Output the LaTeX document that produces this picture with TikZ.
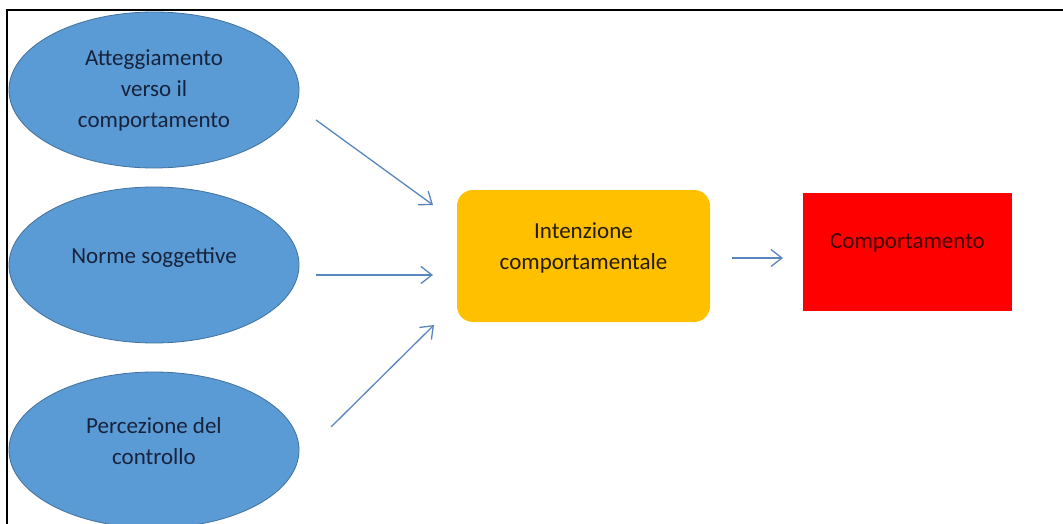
\documentclass[tikz,border=0pt]{standalone}
\usepackage{fontspec}
\setmainfont{Carlito}
\usetikzlibrary{shapes.geometric,arrows.meta}
\definecolor{ellfill}{HTML}{5B9BD5}
\definecolor{elldraw}{HTML}{41719C}
\definecolor{arrowblue}{HTML}{5A86BE}
\definecolor{boxyellow}{HTML}{FFC000}
\definecolor{boxred}{HTML}{FF0000}
\definecolor{elltext}{HTML}{17233D}
\tikzset{
  txt/.style={font=\fontsize{23}{31}\selectfont, align=center},
  ell/.style={ellipse, fill=ellfill, draw=elldraw, line width=0.8pt,
              minimum width=290pt, minimum height=156pt, inner sep=0pt},
  ybox/.style={rectangle, rounded corners=16pt, fill=boxyellow,
               minimum width=253pt, minimum height=132pt, inner sep=0pt},
  rbox/.style={rectangle, fill=boxred, minimum width=209pt,
               minimum height=118pt, inner sep=0pt},
  conn/.style={draw=arrowblue, line width=1.3pt,
               -{Straight Barb[length=11pt,width=17pt,line width=1.3pt]}},
}
\begin{document}
\begin{tikzpicture}[x=1pt,y=-1pt]
  \useasboundingbox (0,0) rectangle (1063,524);
  \clip (0,0) rectangle (1063,524);
  \fill[white] (0,0) rectangle (1063,524);
  % frame
  \draw[line width=2pt] (7,530) -- (7,10.5) -- (1070,10.5);
  % ellipses
  \node[ell, label={[txt, text=elltext]center:Atteggiamento\\verso il\\comportamento}] (e1) at (154,90) {};
  \node[ell, label={[txt, text=elltext, yshift=7pt]center:Norme soggettive}] (e2) at (154,265) {};
  \node[ell, label={[txt, text=elltext, yshift=9pt]center:Percezione del\\controllo}] (e3) at (154,450) {};
  % boxes
  \node[ybox, label={[txt, text=black!85!boxyellow, yshift=8pt]center:Intenzione\\comportamentale}] (int) at (583.5,256) {};
  \node[rbox, label={[txt, text=black!75!boxred, yshift=9pt]center:Comportamento}] (comp) at (907.5,252) {};
  % connector ends
  \coordinate (s1) at (316,120);
  \coordinate (t1) at (433,205);
  \coordinate (s2) at (316,275);
  \coordinate (t2) at (433,275);
  \coordinate (s3) at (331,427);
  \coordinate (t3) at (434,325);
  \coordinate (s4) at (732,258);
  \coordinate (t4) at (783,258);
  \draw[conn] (s1) -- (t1);
  \draw[conn] (s2) -- (t2);
  \draw[conn] (s3) -- (t3);
  \draw[conn] (s4) -- (t4);
\end{tikzpicture}
\end{document}
